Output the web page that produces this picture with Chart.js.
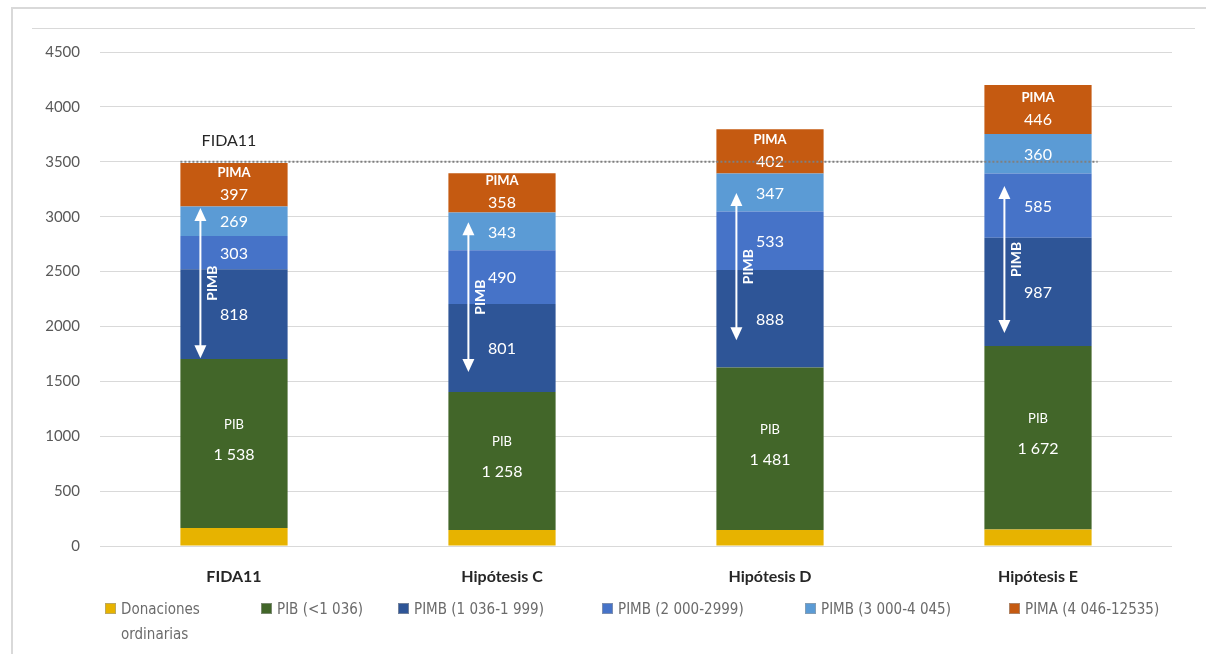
<!DOCTYPE html>
<html>
<head>
<meta charset="utf-8">
<title>FIDA12 - hipótesis de reposición</title>
<script src="https://cdn.jsdelivr.net/npm/chart.js"></script>
<style>
    html, body { margin: 0; padding: 0; background: #fff; }
    #wrap { position: relative; width: 1206px; height: 654px; overflow: hidden; }
    #frame {
        position: absolute; left: 11px; top: 7px; width: 1300px; height: 700px;
        border-left: 2px solid #d9d9d9; border-top: 2px solid #d9d9d9;
    }
    #topline { position: absolute; left: 32px; top: 28px; width: 1163px; border-top: 1px solid #d9d9d9; }
    canvas { position: absolute; left: 0; top: 0; }
    #legend { position: absolute; left: 0; top: 597px; width: 1206px; height: 50px; }
    .item {
        position: absolute; top: 0; display: flex; align-items: flex-start;
        font-family: "Liberation Sans Narrow", "DejaVu Sans Condensed", "Roboto", sans-serif;
        font-size: 15px; color: #6b6b6b; line-height: 24px;
    }
    .sw { width: 11px; height: 11px; margin: 6px 5px 0 0; flex: none; box-sizing: border-box; border: 1px solid rgba(160,160,160,0.6); }
</style>
</head>
<body>
<div id="wrap">
    <div id="frame"></div>
    <div id="topline"></div>
    <canvas id="chart" width="1206" height="654"></canvas>
    <div id="legend"></div>
</div>
<script>
// categorías y series (millones de USD)
const categories = ["FIDA11", "Hipótesis C", "Hipótesis D", "Hipótesis E"];
const donaciones = [165, 145, 145, 150];
const pib = [1538, 1258, 1481, 1672];
const pimb1 = [818, 801, 888, 987];
const pimb2 = [303, 490, 533, 585];
const pimb3 = [269, 343, 347, 360];
const pima = [397, 358, 402, 446];
const fida11Level = 3500;
// flecha "PIMB": extremos en unidades del eje
const arrowTop = [3080, 2950, 3215, 3280];
const arrowBottom = [1710, 1585, 1875, 1940];
const yTicks = [0, 500, 1000, 1500, 2000, 2500, 3000, 3500, 4000, 4500];

const seriesNames = ["Donaciones ordinarias", "PIB (<1 036)", "PIMB (1 036-1 999)", "PIMB (2 000-2999)", "PIMB (3 000-4 045)", "PIMA (4 046-12535)"];
const seriesColors = ["#E7B300", "#426629", "#2E5597", "#4673C8", "#5B9BD5", "#C55A11"];
const seriesData = [donaciones, pib, pimb1, pimb2, pimb3, pima];

const FONT = "Lato, 'Open Sans', sans-serif";

function fmt(v) {
    return String(v).replace(/\B(?=(\d{3})+(?!\d))/g, " ");
}

const annotations = {
    id: "annotations",
    afterDatasetsDraw(chart) {
        const ctx = chart.ctx;
        const y = chart.scales.y;
        ctx.save();
        ctx.textAlign = "center";
        ctx.textBaseline = "middle";
        ctx.fillStyle = "#fff";

        // etiquetas de valores
        chart.data.datasets.forEach((ds, di) => {
            if (di === 0) return;
            chart.getDatasetMeta(di).data.forEach((bar, i) => {
                const cy = (bar.y + bar.base) / 2;
                ctx.fillStyle = "#fff";
                if (di === 1) {
                    ctx.font = "13px " + FONT;
                    ctx.fillText("PIB", bar.x, cy - 19);
                    ctx.font = "16px " + FONT;
                    ctx.fillText(fmt(ds.data[i]), bar.x, cy + 11);
                } else if (di === 5) {
                    ctx.font = "bold 13px " + FONT;
                    ctx.fillText("PIMA", bar.x, cy - 12);
                    ctx.font = "16px " + FONT;
                    ctx.fillText(fmt(ds.data[i]), bar.x, cy + 10);
                } else {
                    ctx.font = "16px " + FONT;
                    ctx.fillText(fmt(ds.data[i]), bar.x, cy + 1);
                }
            });
        });

        // flechas PIMB
        const meta = chart.getDatasetMeta(1);
        meta.data.forEach((bar, i) => {
            const ax = bar.x - bar.width / 2 + 20;
            const t = y.getPixelForValue(arrowTop[i]);
            const b = y.getPixelForValue(arrowBottom[i]);
            ctx.strokeStyle = "#fff";
            ctx.fillStyle = "#fff";
            ctx.lineWidth = 2;
            ctx.beginPath();
            ctx.moveTo(ax, t + 10);
            ctx.lineTo(ax, b - 10);
            ctx.stroke();
            ctx.beginPath();
            ctx.moveTo(ax, t); ctx.lineTo(ax - 6, t + 13); ctx.lineTo(ax + 6, t + 13); ctx.closePath();
            ctx.fill();
            ctx.beginPath();
            ctx.moveTo(ax, b); ctx.lineTo(ax - 6, b - 13); ctx.lineTo(ax + 6, b - 13); ctx.closePath();
            ctx.fill();
            ctx.save();
            ctx.translate(ax + 12, (t + b) / 2);
            ctx.rotate(-Math.PI / 2);
            ctx.font = "bold 14px " + FONT;
            ctx.fillText("PIMB", 0, 0);
            ctx.restore();
        });

        // línea de referencia FIDA11
        const first = meta.data[0];
        const last = meta.data[meta.data.length - 1];
        const ly = y.getPixelForValue(fida11Level);
        ctx.strokeStyle = "#7f7f7f";
        ctx.lineWidth = 2;
        ctx.setLineDash([2, 2]);
        ctx.beginPath();
        ctx.moveTo(first.x - first.width / 2, ly);
        ctx.lineTo(last.x + last.width / 2 + 6, ly);
        ctx.stroke();
        ctx.setLineDash([]);
        ctx.fillStyle = "#262626";
        ctx.font = "16px " + FONT;
        ctx.fillText("FIDA11", first.x - 5, ly - 21);
        ctx.restore();
    }
};

const chart = new Chart(document.getElementById("chart"), {
    type: "bar",
    data: {
        labels: categories,
        datasets: seriesData.map((d, i) => ({
            label: seriesNames[i],
            data: d,
            backgroundColor: seriesColors[i],
            borderWidth: 0,
            barPercentage: 0.8,
            categoryPercentage: 0.5
        }))
    },
    options: {
        responsive: false,
        animation: false,
        layout: { padding: { left: 0, right: 34, top: 52, bottom: 0 } },
        plugins: { legend: { display: false }, tooltip: { enabled: false } },
        scales: {
            x: {
                stacked: true,
                grid: { display: false, drawTicks: false },
                border: { display: false },
                ticks: { padding: 21, color: "#262626", font: { family: FONT, size: 16, weight: "bold" } },
                afterFit(s) { s.height = 108; }
            },
            y: {
                stacked: true,
                min: 0, max: 4500,
                afterBuildTicks(s) { s.ticks = yTicks.map(v => ({ value: v })); },
                grid: { color: "#d9d9d9", lineWidth: 1, drawTicks: false },
                border: { display: false },
                ticks: {
                    padding: 20, color: "#595959", font: { family: FONT, size: 15 },
                    callback: v => String(v)
                },
                afterFit(s) { s.width = 100; }
            }
        }
    },
    plugins: [annotations]
});

// leyenda
const legendLeft = [105, 261, 398, 602, 805, 1009];
const legendWidth = [150, 130, 200, 200, 200, 195];
const legend = document.getElementById("legend");
chart.data.datasets.forEach((ds, i) => {
    const it = document.createElement("div");
    it.className = "item";
    it.style.left = legendLeft[i] + "px";
    it.style.width = legendWidth[i] + "px";
    const sw = document.createElement("span");
    sw.className = "sw";
    sw.style.background = ds.backgroundColor;
    const tx = document.createElement("span");
    tx.textContent = ds.label;
    if (i === 0) { tx.style.width = "110px"; tx.style.lineHeight = "25px"; }
    it.appendChild(sw);
    it.appendChild(tx);
    legend.appendChild(it);
});
</script>
</body>
</html>
